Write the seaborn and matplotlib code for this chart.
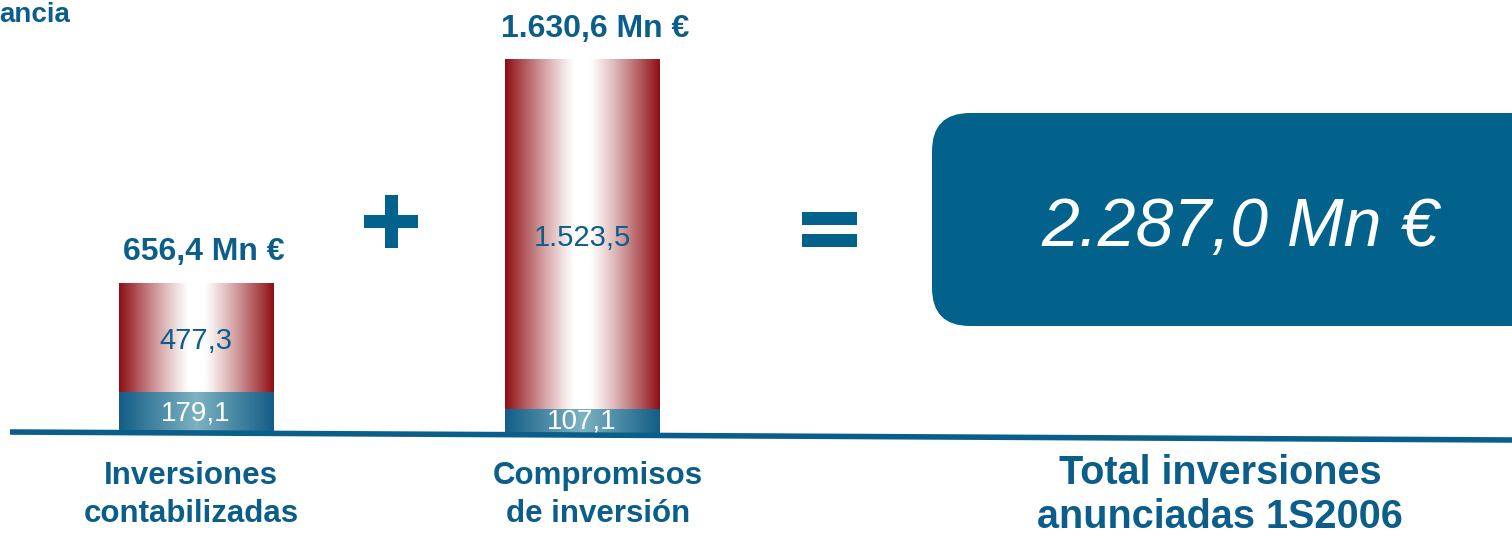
import numpy as np
import pandas as pd
import matplotlib
matplotlib.use("Agg")
import matplotlib.pyplot as plt
import seaborn as sns
from matplotlib.colors import to_rgb
from matplotlib.patches import FancyBboxPatch, Rectangle
from matplotlib.transforms import IdentityTransform, blended_transform_factory

# ---- data (Mn €) ----
categories = ["Inversiones\ncontabilizadas", "Compromisos\nde inversión"]
booked = [179.1, 107.1]        # lower segment
committed = [477.3, 1523.5]    # upper segment
totals = [656.4, 1630.6]
grand_total = 2287.0
total_label = "Total inversiones\nanunciadas 1S2006"
header = "ancia"

sns.set_theme(style="white")
plt.rcParams["font.family"] = ["Liberation Sans", "DejaVu Sans"]

TXT = "#0B5E8A"
BOX = "#02628C"
RED_EDGE = "#8E0E13"
BLUE_EDGE = "#145D86"
BLUE_MID = "#7DB3C2"

W, H = 1512, 536
fig = plt.figure(figsize=(W / 100, H / 100), dpi=100)
fig.patch.set_facecolor("white")
ax = fig.add_axes([0, 0, 1, 1])

df = pd.DataFrame({"cat": categories, "total": totals, "booked": booked})

# full-height bars first, lower segment drawn on top of them
sns.barplot(data=df, x="cat", y="total", ax=ax, width=0.40, color=RED_EDGE,
            saturation=1, linewidth=0, errorbar=None)
n_top = len(ax.patches)
sns.barplot(data=df, x="cat", y="booked", ax=ax, width=0.40, color=BLUE_EDGE,
            saturation=1, linewidth=0, errorbar=None)

# layout of the value axis: pixels per Mn € and the baseline row
px_per_unit = 0.2295
base_px = 434
slot_px, first_px = 386, 196
ax.set_xlim(-first_px / slot_px, (W - first_px) / slot_px)
ax.set_ylim(-(H - base_px) / px_per_unit, base_px / px_per_unit)


def fill_gradient(patch, edge, mid, plateau, power, z):
    x0, y0 = patch.get_x(), patch.get_y()
    w, h = patch.get_width(), patch.get_height()
    s = np.abs(np.linspace(-1, 1, 256))
    t = np.clip((s - plateau) / (1 - plateau), 0, 1) ** power
    e, m = np.array(to_rgb(edge)), np.array(to_rgb(mid))
    rgb = m[None, :] + (e - m)[None, :] * t[:, None]
    ax.imshow(rgb[None, :, :], extent=[x0, x0 + w, y0, y0 + h], aspect="auto",
              interpolation="bilinear", zorder=z)
    patch.set_zorder(z - 0.1)


for p in ax.patches[:n_top]:
    fill_gradient(p, RED_EDGE, "#FFFFFF", 0.10, 1.15, 1.5)
for p in ax.patches[n_top:]:
    fill_gradient(p, BLUE_EDGE, BLUE_MID, 0.0, 1.0, 2.5)

xlim, ylim = ax.get_xlim(), ax.get_ylim()


def es(v, d=1):
    s = f"{v:,.{d}f}"
    return s.replace(",", "X").replace(".", ",").replace("X", ".")


total_dx = [8, 13]
for i in range(len(categories)):
    ax.annotate(es(committed[i]), xy=(i, booked[i] + committed[i] / 2),
                xytext=(0, -3), textcoords="offset pixels", ha="center",
                va="center", fontsize=21, color=TXT, zorder=5)
    ax.text(i, booked[i] / 2, es(booked[i]), ha="center", va="center",
            fontsize=20, color="white", zorder=5)
    ax.annotate(f"{es(totals[i])} Mn €", xy=(i, totals[i]),
                xytext=(total_dx[i], 31), textcoords="offset pixels",
                ha="center", va="center", fontsize=23, fontweight="bold",
                color=TXT)

# category captions under the baseline
blend = blended_transform_factory(ax.transData, IdentityTransform())
cap_dx = [-5, 16]
for i, lab in enumerate(categories):
    ax.annotate(lab, xy=(i, H - 495), xycoords=blend, xytext=(cap_dx[i], 0),
                textcoords="offset pixels", ha="center", va="center",
                fontsize=22.5, fontweight="bold", color=TXT, linespacing=1.34)

idt = IdentityTransform()

# baseline rule
ax.plot([10, W], [H - 432, H - 440], transform=idt, color="#0A5F8A", lw=4.0,
        solid_capstyle="butt", zorder=4, clip_on=False)

# operators: plus and equals signs
op_kw = dict(transform=idt, facecolor=BOX, edgecolor="none", clip_on=False)
ax.add_patch(Rectangle((364, H - 228), 54, 13, **op_kw))
ax.add_patch(Rectangle((384.5, H - 248), 13.5, 53, **op_kw))
ax.add_patch(Rectangle((802, H - 225), 55, 13, **op_kw))
ax.add_patch(Rectangle((802, H - 247), 55, 13, **op_kw))

# total box
box = FancyBboxPatch((932, H - 326), 640, 213,
                     boxstyle="round,pad=0,rounding_size=38",
                     transform=idt, facecolor=BOX, edgecolor="none", zorder=3,
                     clip_on=False)
ax.add_patch(box)
ax.text(1240, H - 228, f"{es(grand_total)} Mn €", transform=idt, ha="center",
        va="center", fontsize=49, fontstyle="italic", color="white", zorder=4)

ax.text(1220, H - 495, total_label, transform=idt, ha="center", va="center",
        fontsize=28.5, fontweight="bold", color=TXT, linespacing=1.22)

ax.text(-1, H - 15, header, transform=idt, ha="left", va="center",
        fontsize=20, fontweight="bold", color=TXT)

ax.set_xlim(xlim)
ax.set_ylim(ylim)
ax.set_axis_off()

fig.savefig("out.png", dpi=100, facecolor="white")
